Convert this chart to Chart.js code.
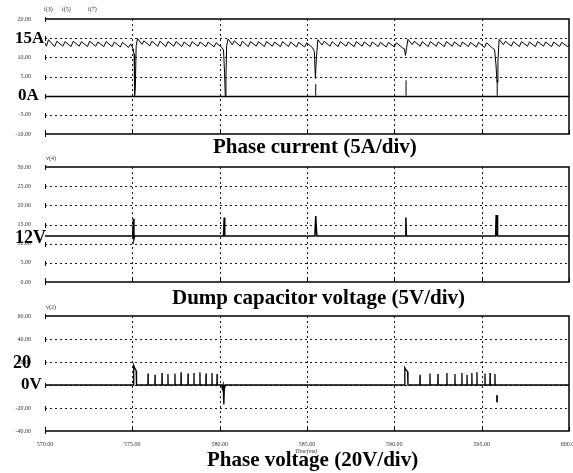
<!DOCTYPE html>
<html>
<head>
<meta charset="utf-8">
<script src="https://cdn.jsdelivr.net/npm/chart.js@4.4.0/dist/chart.umd.min.js"></script>
<style>
  html, body { margin: 0; padding: 0; background: #fff; }
  #wrap { position: relative; width: 573px; height: 473px; overflow: hidden; }
  #wrap canvas { position: absolute; left: 0; }
  .big { position: absolute; font-family: "Liberation Serif", "DejaVu Serif", serif; font-weight: bold; color: #000; line-height: 1; white-space: nowrap; }
  .tiny { position: absolute; font-family: "Liberation Serif", serif; font-size: 6px; color: #333; line-height: 1; white-space: nowrap; }
</style>
</head>
<body>
<div id="wrap">
  <canvas id="currentChart" width="573" height="140" style="top:0px"></canvas>
  <canvas id="dumpChart" width="573" height="138" style="top:150px"></canvas>
  <canvas id="voltageChart" width="573" height="173" style="top:300px"></canvas>

  <div class="tiny" style="left:44px;top:6px">i(3)</div>
  <div class="tiny" style="left:62px;top:6px">i(5)</div>
  <div class="tiny" style="left:88px;top:6px">i(7)</div>
  <div class="tiny" style="left:46px;top:155px">v(4)</div>
  <div class="tiny" style="left:46px;top:304px">v(2)</div>
  <div class="tiny" style="left:295px;top:448px;font-style:italic">Time(ms)</div>

  <div class="big" style="left:15px;top:29px;font-size:17px">15A</div>
  <div class="big" style="left:18px;top:86px;font-size:17px">0A</div>
  <div class="big" style="left:15px;top:228px;font-size:18px">12V</div>
  <div class="big" style="left:13px;top:353px;font-size:18px">20</div>
  <div class="big" style="left:21px;top:375px;font-size:17px">0V</div>

  <div class="big" style="left:213px;top:136px;font-size:21px">Phase current (5A/div)</div>
  <div class="big" style="left:172px;top:287px;font-size:21px">Dump capacitor voltage (5V/div)</div>
  <div class="big" style="left:207px;top:449px;font-size:21px">Phase voltage (20V/div)</div>
</div>

<script>
// Time axis (ms)
const timeMin = 570;
const timeMax = 600;
const timeStep = 5;

// Phase current trace (A)
const currentT = [
  570.00, 570.08, 570.20, 570.55, 570.68, 571.02, 571.15, 571.49, 571.62, 571.96, 572.09, 572.43, 572.56, 572.90, 573.03,
  573.37, 573.50, 573.84, 573.97, 574.31, 574.44, 574.78, 574.91, 575.05, 575.10, 575.13, 575.17, 575.22, 575.30,
  575.55, 575.66, 576.00, 576.12, 576.46, 576.58, 576.92, 577.04, 577.38, 577.50, 577.84, 577.96, 578.30, 578.42,
  578.76, 578.88, 579.22, 579.34, 579.68, 579.80, 580.14, 580.22, 580.28, 580.32, 580.36, 580.40, 580.48,
  580.72, 580.84, 581.18, 581.30, 581.64, 581.76, 582.10, 582.22, 582.56, 582.68, 583.02, 583.14, 583.48,
  583.60, 583.94, 584.06, 584.40, 584.52, 584.86, 584.98, 585.32, 585.42, 585.48, 585.54, 585.62,
  585.86, 585.98, 586.32, 586.44, 586.78, 586.90, 587.24, 587.36, 587.70, 587.82, 588.16, 588.28, 588.62,
  588.74, 589.08, 589.20, 589.54, 589.66, 590.00, 590.12, 590.46, 590.58, 590.64, 590.70, 590.78,
  591.02, 591.14, 591.48, 591.60, 591.94, 592.06, 592.40, 592.52, 592.86, 592.98, 593.32, 593.44, 593.78,
  593.90, 594.24, 594.36, 594.70, 594.82, 595.16, 595.28, 595.62, 595.74, 595.82, 595.88, 595.93, 596.00,
  596.24, 596.36, 596.70, 596.82, 597.16, 597.28, 597.62, 597.74, 598.08, 598.20, 598.54, 598.66, 599.00,
  599.12, 599.46, 599.58, 599.92, 600.00
];
const currentA = [
  13.8, 12.9, 14.6, 12.8, 14.2, 12.9, 14.1, 12.8, 14.2, 12.9, 14.1, 12.8, 14.2, 12.9, 14.0,
  12.8, 14.1, 12.8, 14.0, 12.7, 13.9, 12.6, 13.5, 12.2, 10.8, 0.0, 2.0, 13.0, 14.9,
  13.4, 14.3, 13.0, 14.2, 12.9, 14.2, 12.8, 14.1, 12.9, 14.1, 12.8, 14.0, 12.8, 14.1,
  12.9, 14.0, 12.8, 14.0, 12.7, 13.8, 12.5, 11.9, 6.0, 0.0, 5.0, 13.0, 14.8,
  13.3, 14.3, 12.9, 14.2, 12.8, 14.1, 12.9, 14.1, 12.8, 14.1, 12.9, 14.0, 12.8,
  14.1, 12.8, 14.0, 12.7, 13.9, 12.7, 13.8, 12.5, 11.5, 4.5, 10.0, 14.6,
  13.2, 14.2, 12.9, 14.1, 12.8, 14.1, 12.9, 14.0, 12.8, 14.1, 12.9, 14.0, 12.8,
  14.0, 12.8, 13.9, 12.7, 13.9, 12.7, 13.8, 12.5, 12.2, 10.5, 12.5, 14.7,
  13.3, 14.2, 12.9, 14.1, 12.8, 14.1, 12.9, 14.0, 12.8, 14.1, 12.9, 14.0, 12.8,
  14.0, 12.8, 13.9, 12.7, 13.9, 12.6, 13.8, 12.4, 12.0, 8.0, 3.5, 9.0, 14.7,
  13.3, 14.2, 12.9, 14.1, 12.8, 14.1, 12.9, 14.0, 12.8, 14.1, 12.9, 14.0, 12.8,
  14.0, 12.8, 13.9, 12.8, 13.2
];
// short broken strokes near the commutation dips
const currentBlipT = [585.50, 585.50, 585.51, 590.67, 590.67, 590.68, 595.89, 595.89];
const currentBlipA = [0, 3, null, 0, 4, null, 0, 4];

// Dump capacitor voltage trace (V)
const dumpT = [
  570.00, 575.02, 575.06, 575.09, 575.13, 580.22, 580.26, 580.29, 585.45, 585.50, 585.56,
  590.62, 590.66, 590.69, 595.80, 595.83, 595.86, 595.88, 595.91, 600.00
];
const dumpV = [
  12.0, 12.0, 16.5, 11.2, 12.0, 12.0, 16.8, 12.0, 12.0, 17.2, 12.0,
  12.0, 16.8, 12.0, 12.0, 17.5, 12.0, 17.5, 12.0, 12.0
];

// Phase voltage trace (V)
const phaseT = [
  570.00, 575.06, 575.08, 575.16, 575.22, 575.24,
  575.89, 575.90, 575.91, 576.29, 576.30, 576.31, 576.69, 576.70, 576.71, 577.03, 577.04, 577.05,
  577.43, 577.44, 577.45, 577.78, 577.79, 577.80, 578.18, 578.19, 578.20, 578.52, 578.53, 578.54,
  578.86, 578.87, 578.88, 579.21, 579.22, 579.23, 579.55, 579.56, 579.57, 579.84, 579.85, 579.86,
  580.12, 580.15, 580.20, 580.24, 580.27, 580.30,
  590.58, 590.60, 590.65, 590.76, 590.78,
  591.46, 591.47, 591.48, 592.03, 592.04, 592.05, 592.49, 592.50, 592.51, 593.00, 593.01, 593.02,
  593.46, 593.47, 593.48, 593.86, 593.87, 593.88, 594.15, 594.16, 594.17, 594.43, 594.44, 594.45,
  594.72, 594.73, 594.74, 595.18, 595.19, 595.20, 595.47, 595.48, 595.49, 595.75, 595.76, 595.77,
  595.85, 600.00
];
const phaseV = [
  0, 0, 17.0, 14.0, 12.5, 0,
  0, 10.0, 0, 0, 9.0, 0, 0, 10.5, 0, 0, 9.5, 0,
  0, 10.0, 0, 0, 11.0, 0, 0, 10.0, 0, 0, 10.5, 0,
  0, 11.0, 0, 0, 10.0, 0, 0, 10.5, 0, 0, 9.5, 0,
  0, -3.0, 0, -17.0, -2.0, 0,
  0, 15.0, 13.5, 11.5, 0,
  0, 9.0, 0, 0, 10.0, 0, 0, 9.5, 0, 0, 10.5, 0,
  0, 9.5, 0, 0, 10.5, 0, 0, 9.0, 0, 0, 10.5, 0,
  0, 11.0, 0, 0, 10.0, 0, 0, 10.5, 0, 0, 9.5, 0,
  0, 0
];
const phaseBlipT = [595.88, 595.88];
const phaseBlipV = [-9, -15];

// Vertical scales of the three panels
const currentTicks = { min: -10, max: 20, step: 5 };
const dumpTicks = { min: 0, max: 30, step: 5 };
const phaseTicks = { min: -40, max: 60, step: 20 };

function toPoints(xs, ys) {
    return xs.map((t, i) => ({ x: t, y: ys[i] }));
}

// Dotted scope graticule, solid frame and small tick marks
const scopeGrid = {
    id: 'scopeGrid',
    beforeDatasetsDraw(chart, args, opts) {
        const { ctx, chartArea: area, scales: { x, y } } = chart;
        const solid = opts.solid || [];
        ctx.save();
        ctx.strokeStyle = '#1a1a1a';
        ctx.lineWidth = 1;
        ctx.setLineDash([2, 3]);
        x.ticks.forEach(t => {
            if (t.value <= x.min || t.value >= x.max) return;
            const px = Math.round(x.getPixelForValue(t.value)) + 0.5;
            ctx.beginPath();
            ctx.moveTo(px, area.top);
            ctx.lineTo(px, area.bottom);
            ctx.stroke();
        });
        y.ticks.forEach(t => {
            if (t.value <= y.min || t.value >= y.max || solid.includes(t.value)) return;
            const py = Math.round(y.getPixelForValue(t.value)) + 0.5;
            ctx.beginPath();
            ctx.moveTo(area.left, py);
            ctx.lineTo(area.right, py);
            ctx.stroke();
        });

        ctx.setLineDash([]);
        ctx.lineWidth = 1.5;
        ctx.strokeStyle = '#000';
        ctx.beginPath();
        ctx.moveTo(area.left, area.top);
        ctx.lineTo(area.right, area.top);
        ctx.lineTo(area.right, area.bottom);
        ctx.lineTo(area.left, area.bottom);
        ctx.stroke();
        solid.forEach(v => {
            const py = Math.round(y.getPixelForValue(v)) + 0.5;
            ctx.beginPath();
            ctx.moveTo(area.left, py);
            ctx.lineTo(area.right, py);
            ctx.stroke();
        });

        // little tick marks on the left edge and the bottom edge
        ctx.lineWidth = 1;
        y.ticks.forEach(t => {
            const py = Math.round(y.getPixelForValue(t.value));
            ctx.beginPath();
            ctx.moveTo(area.left + 0.5, py - 2);
            ctx.lineTo(area.left + 0.5, py + 3);
            ctx.stroke();
        });
        x.ticks.forEach(t => {
            const px = Math.round(x.getPixelForValue(t.value)) + 0.5;
            ctx.beginPath();
            ctx.moveTo(px, area.bottom);
            ctx.lineTo(px, area.bottom - 4);
            ctx.stroke();
        });
        ctx.restore();
    }
};

function makeScopeChart(canvasId, cfg) {
    const ctx = document.getElementById(canvasId).getContext('2d');
    const datasets = cfg.traces.map(tr => ({
        data: tr.points,
        borderColor: '#000',
        borderWidth: tr.width,
        pointRadius: 0,
        tension: 0,
        spanGaps: false
    }));
    return new Chart(ctx, {
        type: 'line',
        data: { datasets: datasets },
        plugins: [scopeGrid],
        options: {
            responsive: false,
            animation: false,
            layout: { padding: { top: cfg.padTop, right: 4, bottom: 0, left: 0 } },
            plugins: {
                legend: { display: false },
                tooltip: { enabled: false },
                scopeGrid: { solid: cfg.solid }
            },
            scales: {
                x: {
                    type: 'linear',
                    min: timeMin,
                    max: timeMax,
                    grid: { display: false },
                    border: { display: false },
                    // keep the plot edges fixed, labels may hang over
                    afterFit: s => {
                        s.height = cfg.xHeight;
                        s.paddingLeft = 0;
                        s.paddingRight = 0;
                    },
                    ticks: {
                        display: cfg.showTime,
                        stepSize: timeStep,
                        maxRotation: 0,
                        autoSkip: false,
                        padding: 2,
                        color: '#333',
                        font: { family: 'Liberation Serif', size: 6 },
                        callback: v => v.toFixed(2)
                    }
                },
                y: {
                    min: cfg.ticks.min,
                    max: cfg.ticks.max,
                    grid: { display: false },
                    border: { display: false },
                    afterFit: s => {
                        s.width = 45;
                        s.paddingTop = 0;
                        s.paddingBottom = 0;
                    },
                    ticks: {
                        stepSize: cfg.ticks.step,
                        padding: 6,
                        color: '#333',
                        font: { family: 'Liberation Serif', size: 6 },
                        callback: v => (cfg.hideLabels.includes(v) ? '' : v.toFixed(2))
                    }
                }
            }
        }
    });
}

window.onload = function() {
    makeScopeChart('currentChart', {
        padTop: 19, xHeight: 6, showTime: false,
        ticks: currentTicks, solid: [0], hideLabels: [15, 0],
        traces: [
            { points: toPoints(currentT, currentA), width: 1 },
            { points: toPoints(currentBlipT, currentBlipA), width: 1 }
        ]
    });
    makeScopeChart('dumpChart', {
        padTop: 17, xHeight: 6, showTime: false,
        ticks: dumpTicks, solid: [], hideLabels: [],
        traces: [{ points: toPoints(dumpT, dumpV), width: 1.5 }]
    });
    makeScopeChart('voltageChart', {
        padTop: 16, xHeight: 42, showTime: true,
        ticks: phaseTicks, solid: [], hideLabels: [0],
        traces: [
            { points: toPoints(phaseT, phaseV), width: 1.3 },
            { points: toPoints(phaseBlipT, phaseBlipV), width: 1 }
        ]
    });
};
</script>
</body>
</html>
